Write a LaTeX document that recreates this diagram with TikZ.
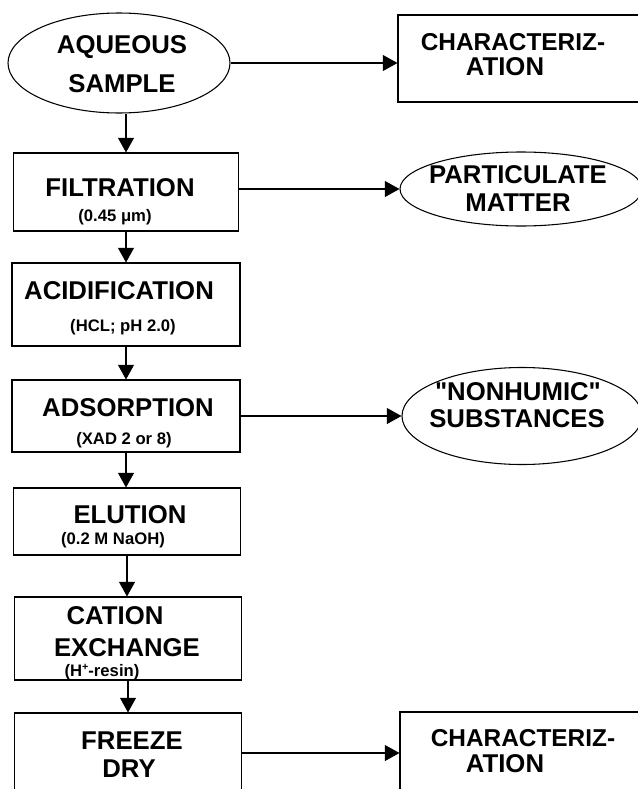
\documentclass[tikz,border=0pt]{standalone}
\usepackage{fontspec}
\setmainfont{Liberation Sans}[Ligatures=TeXOff]
\usetikzlibrary{shapes.geometric,arrows.meta}
\begin{document}
\begin{tikzpicture}[x=0.75pt,y=-0.75pt,
  box/.style={draw,line width=0.8pt,rectangle,inner sep=0},
  oval/.style={draw,line width=0.8pt,ellipse,inner sep=0},
  big/.style={font=\fontsize{19.3}{22}\selectfont\bfseries,inner sep=0,anchor=base},
  small/.style={font=\fontsize{12.5}{14}\selectfont\bfseries,inner sep=0,anchor=base},
  arr/.style={line width=0.8pt,-{Triangle[length=11pt,width=12pt]}}]
\useasboundingbox (0,0) rectangle (638,789);
% shapes
\node[oval,minimum width=222*0.75pt,minimum height=100*0.75pt] (aq) at (119,63) {};
\node[box,minimum width=262*0.75pt,minimum height=87*0.75pt] (ch1) at (529,58.5) {};
\node[box,minimum width=225*0.75pt,minimum height=78*0.75pt] (filt) at (126,192) {};
\node[oval,minimum width=242*0.75pt,minimum height=74*0.75pt] (part) at (521,189) {};
\node[box,minimum width=228*0.75pt,minimum height=83*0.75pt] (acid) at (126,304.5) {};
\node[box,minimum width=228*0.75pt,minimum height=72*0.75pt] (ads) at (126,416) {};
\node[oval,minimum width=240*0.75pt,minimum height=97*0.75pt] (nonh) at (522,416) {};
\node[box,minimum width=227*0.75pt,minimum height=67*0.75pt] (elu) at (127,521.5) {};
\node[box,minimum width=227*0.75pt,minimum height=83*0.75pt] (cation) at (128,638.5) {};
\node[box,minimum width=227*0.75pt,minimum height=107*0.75pt] (frz) at (128,766.5) {};
\node[box,minimum width=260*0.75pt,minimum height=108*0.75pt] (ch2) at (530,766) {};
\coordinate (yFrz) at (0,753);
% vertical arrows
\draw[arr] (aq.south -| filt.north) -- (filt.north);
\draw[arr] (filt.south) -- (acid.north -| filt.south);
\draw[arr] (acid.south) -- (ads.north);
\draw[arr] (ads.south) -- (elu.north -| ads.south);
\draw[arr] (elu.south) -- (cation.north -| elu.south);
\draw[arr] (cation.south) -- (frz.north);
% horizontal arrows
\draw[arr] (aq.east) -- (aq.east -| ch1.west);
\draw[arr] (part.west -| filt.east) -- (part.west);
\draw[arr] (ads.east) -- (nonh.west);
\draw[arr] (frz.east |- yFrz) -- (ch2.west |- yFrz);
% texts
\node[big] (tAq1) at (122,53) {AQUEOUS};
\node[big] (tAq2) at (122,92) {SAMPLE};
\node[big,font=\fontsize{18.3}{22}\selectfont\bfseries] (tCh1a) at (513,50) {CHARACTERIZ-};
\node[big] (tCh1b) at (505,75) {ATION};
\node[big] (tFi1) at (120,196) {FILTRATION};
\node[small] (tFi2) at (115,221) {(0.45 μm)};
\node[big] (tPa1) at (518,183) {PARTICULATE};
\node[big] (tPa2) at (518,211) {MATTER};
\node[big] (tAc1) at (119,299) {ACIDIFICATION};
\node[small] (tAc2) at (123,331) {(HCL; pH 2.0)};
\node[big] (tAd1) at (128,416) {ADSORPTION};
\node[small] (tAd2) at (124,444) {(XAD 2 or 8)};
\node[big] (tNo1) at (518,400) {"NONHUMIC"};
\node[big] (tNo2) at (517,427) {SUBSTANCES};
\node[big] (tEl1) at (130,523) {ELUTION};
\node[small] (tEl2) at (113,544) {(0.2 M NaOH)};
\node[big] (tCa1) at (115,624) {CATION};
\node[big] (tCa2) at (127,656) {EXCHANGE};
\node[small] (tCa3) at (102,676) {(H\raisebox{0.35em}{\fontsize{8}{9}\selectfont +}-resin)};
\node[big] (tFr1) at (132,749) {FREEZE};
\node[big] (tFr2) at (129,777) {DRY};
\node[big,font=\fontsize{18.3}{22}\selectfont\bfseries] (tCh2a) at (523,746) {CHARACTERIZ-};
\node[big] (tCh2b) at (505,772) {ATION};
\end{tikzpicture}
\end{document}
